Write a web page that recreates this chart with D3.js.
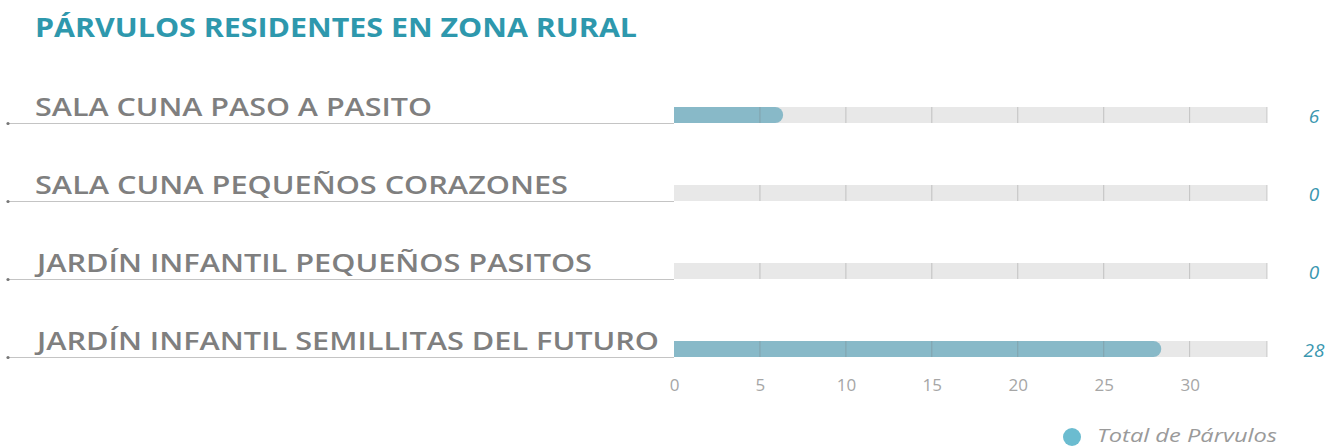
<!DOCTYPE html>
<html><head><meta charset="utf-8">
<script src="https://cdn.jsdelivr.net/npm/d3@7"></script>
<style>
html,body{margin:0;padding:0;background:#fff;}
svg{display:block;}
</style></head>
<body>
<svg id="chart" width="1329" height="446"></svg>
<script>
const title = "PÁRVULOS RESIDENTES EN ZONA RURAL";
const categories = ["SALA CUNA PASO A PASITO","SALA CUNA PEQUEÑOS CORAZONES","JARDÍN INFANTIL PEQUEÑOS PASITOS","JARDÍN INFANTIL SEMILLITAS DEL FUTURO"];
const values = [6, 0, 0, 28];
const tickValues = [0, 5, 10, 15, 20, 25, 30];
const seriesName = "Total de Párvulos";
const labelWidths = [397, 533, 555, 622];
const labelX = [35, 35, 37, 37];

const svg = d3.select("#chart");
const x = d3.scaleLinear().domain([0, 34.5]).range([674, 1267]);
const y = d3.scalePoint().domain(categories).range([115, 349]);
const barH = 16;

svg.append("text").attr("x", 35).attr("y", 37)
  .attr("font-family", "Open Sans, sans-serif").attr("font-weight", 700)
  .attr("font-size", 26).attr("fill", "#2e98ad")
  .attr("textLength", 602).attr("lengthAdjust", "spacingAndGlyphs")
  .text(title);

const rows = svg.append("g").selectAll("g").data(categories).join("g");

// underline
rows.append("line")
  .attr("x1", 8).attr("x2", x(0))
  .attr("y1", d => y(d) + barH/2 + 0.5).attr("y2", d => y(d) + barH/2 + 0.5)
  .attr("stroke", "#c4c4c4").attr("stroke-width", 1.2);
rows.append("circle").attr("cx", 8).attr("cy", d => y(d) + barH/2 + 0.5).attr("r", 1.6).attr("fill", "#777");

// labels
rows.append("text")
  .attr("x", (d,i) => labelX[i]).attr("y", d => y(d) + 1)
  .attr("font-family", "Open Sans, sans-serif").attr("font-weight", 600)
  .attr("font-size", 26).attr("fill", "#7f7f7f")
  .attr("textLength", (d,i) => labelWidths[i]).attr("lengthAdjust", "spacingAndGlyphs")
  .text(d => d);

// tracks
rows.append("rect")
  .attr("x", x(0)).attr("y", d => y(d) - barH/2)
  .attr("width", x(34.5) - x(0)).attr("height", barH)
  .attr("fill", "#e8e8e8");

// bars with rounded end
rows.each(function(d, i) {
  const v = values[i];
  if (v <= 0) return;
  const x0 = x(0), x1 = x(v) + 6, yt = y(d) - barH/2, r = barH/2;
  d3.select(this).append("path")
    .attr("d", `M${x0},${yt}H${x1 - r}A${r},${r} 0 0 1 ${x1 - r},${yt + barH}H${x0}Z`)
    .attr("fill", "#88b9c8");
});

// gridlines within tracks
rows.each(function(d) {
  d3.select(this).selectAll("line.grid").data(tickValues.slice(1).concat([34.5])).join("line")
    .attr("class", "grid")
    .attr("x1", t => x(t)).attr("x2", t => x(t))
    .attr("y1", y(d) - barH/2).attr("y2", y(d) + barH/2)
    .attr("stroke", "rgba(120,120,120,0.35)").attr("stroke-width", 1);
});

// value labels
rows.append("text")
  .attr("x", 1314).attr("y", d => y(d) + 8)
  .attr("text-anchor", "middle")
  .attr("font-family", "Open Sans, sans-serif").attr("font-style", "italic")
  .attr("font-size", 19).attr("fill", "#3a97b0")
  .text((d,i) => values[i]);

// x axis
const axis = d3.axisBottom(x).tickValues(tickValues).tickSize(0).tickPadding(0);
const ag = svg.append("g").attr("transform", "translate(0,375)").call(axis);
ag.select(".domain").remove();
ag.selectAll("text").attr("font-family", "Open Sans, sans-serif").attr("font-weight", 400)
  .attr("font-size", 17).attr("fill", "#a6a6a6").attr("dy", "0.95em");

// legend
svg.append("circle").attr("cx", 1072).attr("cy", 437).attr("r", 9).attr("fill", "#6bbcd0");
svg.append("text").attr("x", 1097).attr("y", 442)
  .attr("font-family", "Open Sans, sans-serif").attr("font-style", "italic").attr("font-weight", 400)
  .attr("font-size", 18).attr("fill", "#9a9a9a")
  .attr("textLength", 180).attr("lengthAdjust", "spacingAndGlyphs")
  .text(seriesName);
</script>
</body></html>
